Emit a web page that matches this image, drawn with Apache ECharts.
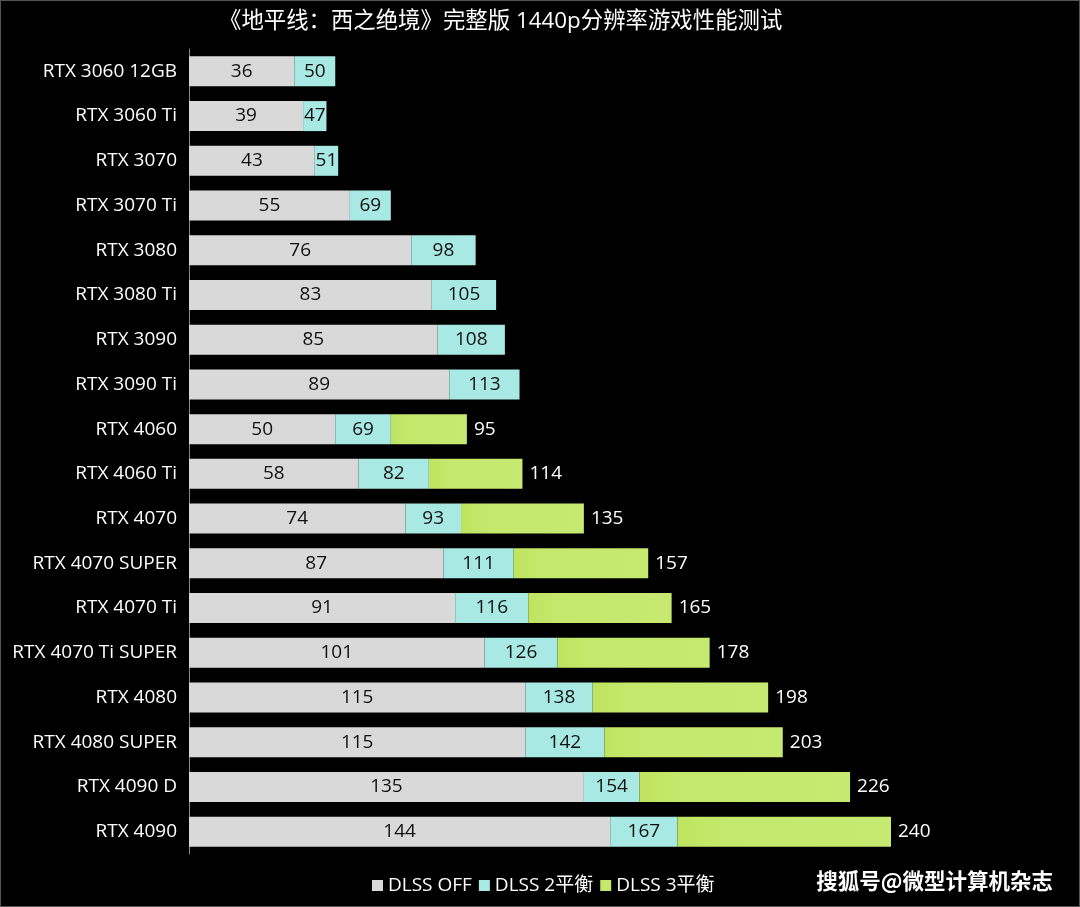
<!DOCTYPE html>
<html>
<head>
<meta charset="utf-8">
<script src="https://cdn.jsdelivr.net/npm/echarts@6/dist/echarts.min.js"></script>
<style>
html,body{margin:0;padding:0;background:#000;}
#c{width:1080px;height:907px;box-sizing:border-box;border:1px solid #555;}
</style>
</head>
<body>
<div id="c"></div>
<script>
const categories = ['RTX 3060 12GB','RTX 3060 Ti','RTX 3070','RTX 3070 Ti','RTX 3080','RTX 3080 Ti','RTX 3090','RTX 3090 Ti','RTX 4060','RTX 4060 Ti','RTX 4070','RTX 4070 SUPER','RTX 4070 Ti','RTX 4070 Ti SUPER','RTX 4080','RTX 4080 SUPER','RTX 4090 D','RTX 4090'];
const dlssOff = [36,39,43,55,76,83,85,89,50,58,74,87,91,101,115,115,135,144];
const dlss2 = [50,47,51,69,98,105,108,113,69,82,93,111,116,126,138,142,154,167];
const dlss3 = [null,null,null,null,null,null,null,null,95,114,135,157,165,178,198,203,226,240];
const seriesNames = ['DLSS OFF','DLSS 2平衡','DLSS 3平衡'];

const font = '"Open Sans", "Noto Sans CJK SC", sans-serif';
const cjk = '"Noto Sans CJK SC", "Open Sans", sans-serif';
const d2 = dlss2.map((v,i)=>v - dlssOff[i]);
const d3 = dlss3.map((v,i)=> v == null ? null : v - dlss2[i]);

const chart = echarts.init(document.getElementById('c'));
chart.setOption({
  backgroundColor: '#000',
  textStyle: {fontFamily: font},
  title: {
    text: '《地平线：西之绝境》完整版 1440p分辨率游戏性能测试',
    left: 213, top: 4,
    textStyle: {color: '#fff', fontSize: 22.4, fontWeight: 'normal', fontFamily: font}
  },
  graphic: [{
    type: 'text', right: 26, top: 869,
    style: {text: '搜狐号@微型计算机杂志', fill: '#fff', font: 'bold 21.5px ' + cjk}
  }],
  legend: {
    data: seriesNames, left: 366, top: 870,
    itemWidth: 11, itemHeight: 11, itemGap: 7, icon: 'rect',
    textStyle: {color: '#fff', fontSize: 19, fontFamily: font}
  },
  grid: {left: 188, right: 188, top: 48, bottom: 52},
  xAxis: {type: 'value', min: 0, max: 240, show: false},
  yAxis: {
    type: 'category', data: categories, inverse: true,
    axisLine: {show: true, lineStyle: {color: '#888', width: 1}},
    axisTick: {show: false},
    axisLabel: {color: '#fff', fontSize: 19, margin: 12, fontFamily: font}
  },
  series: [
    {
      name: seriesNames[0], type: 'bar', stack: 's', barWidth: 30,
      data: dlssOff, itemStyle: {color: '#d9d9d9'},
      label: {show: true, position: 'inside', color: '#111', fontSize: 19, fontFamily: font},
      z: 3
    },
    {
      name: seriesNames[1], type: 'bar', stack: 's', barWidth: 30,
      data: d2, itemStyle: {color: '#a8e9e3'},
      label: {show: true, position: 'inside', color: '#111', fontSize: 19, fontFamily: font,
        formatter: p => dlss2[p.dataIndex]},
      z: 3
    },
    {
      name: seriesNames[2], type: 'bar', stack: 's', barWidth: 30,
      data: d3,
      itemStyle: {color: new echarts.graphic.LinearGradient(0,0,1,0,[
        {offset:0,color:'#bfe460'},{offset:0.2,color:'#c4e86b'},{offset:1,color:'#c6ea71'}])},
      label: {show: true, position: 'right', distance: 7, color: '#fff', fontSize: 19, fontFamily: font,
        formatter: p => dlss3[p.dataIndex] == null ? '' : dlss3[p.dataIndex]},
      z: 3
    }
  ]
});
</script>
</body>
</html>
